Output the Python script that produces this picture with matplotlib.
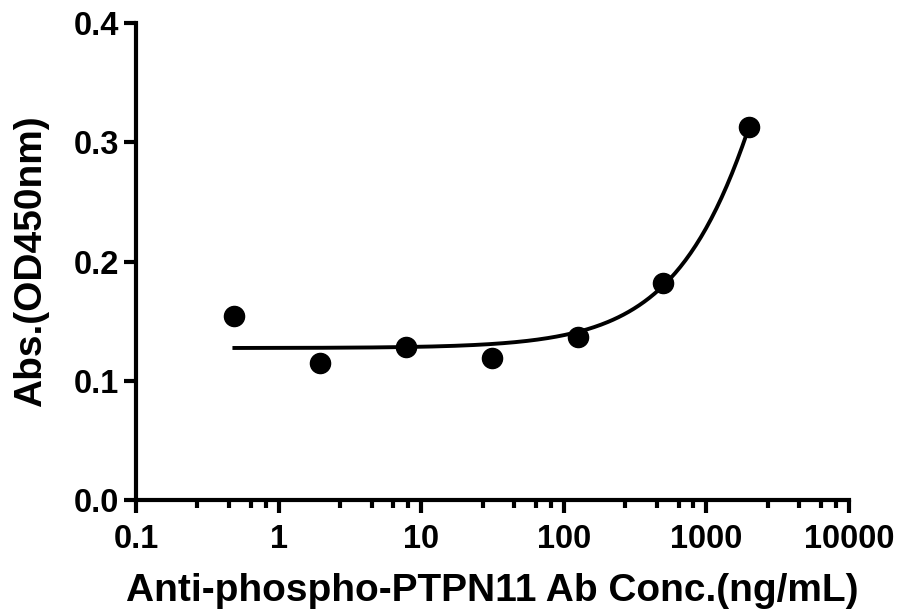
import numpy as np
import matplotlib.pyplot as plt
from matplotlib.ticker import FixedLocator, NullFormatter

plt.rcParams['font.family'] = ['Liberation Sans', 'DejaVu Sans']
plt.rcParams['font.weight'] = 'bold'

# data
conc = [0.49, 1.95, 7.8, 31.25, 125, 500, 2000]
absorb = [0.154, 0.115, 0.128, 0.119, 0.137, 0.182, 0.313]
x_ticks = [0.1, 1, 10, 100, 1000, 10000]
x_tick_labels = ['0.1', '1', '10', '100', '1000', '10000']
y_ticks = [0.0, 0.1, 0.2, 0.3, 0.4]

fig = plt.figure(figsize=(9.03, 6.14), dpi=100)
ax = fig.add_axes([0.1506, 0.1857, 0.7894, 0.7768])

# fitted curve through the points
coef = np.polyfit(conc, absorb, 2)
xs = np.logspace(np.log10(conc[0]), np.log10(conc[-1]), 300)
ax.plot(xs, np.polyval(coef, xs), color='black', lw=2.8)
ax.plot(conc, absorb, 'o', color='black', ms=14.5)

ax.set_xscale('log')
ax.set_xlim(0.1, 10000)
ax.set_ylim(0, 0.4)
ax.set_xticks(x_ticks)
ax.set_xticklabels(x_tick_labels)
minor = [d * s for d in [0.1, 1, 10, 100, 1000] for s in (2.7, 4.5, 6.4, 8.1)]
ax.xaxis.set_minor_locator(FixedLocator(minor))
ax.xaxis.set_minor_formatter(NullFormatter())
ax.set_yticks(y_ticks)
ax.set_yticklabels(['0.0', '0.1', '0.2', '0.3', '0.4'])

for s in ['top', 'right']:
    ax.spines[s].set_visible(False)
for s in ['left', 'bottom']:
    ax.spines[s].set_linewidth(3)

ax.tick_params(which='major', length=9, width=3, labelsize=23.5)
ax.tick_params(axis='x', which='major', pad=8)
ax.tick_params(axis='y', which='major', pad=3)
ax.tick_params(which='minor', length=6, width=3)
for lab in ax.get_xticklabels() + ax.get_yticklabels():
    lab.set_fontweight('bold')

ax.set_xlabel('Anti-phospho-PTPN11 Ab Conc.(ng/mL)', fontsize=28, fontweight='bold', labelpad=13)
ax.set_ylabel('Abs.(OD450nm)', fontsize=28, fontweight='bold', labelpad=18)

plt.savefig('out.png', dpi=100)
